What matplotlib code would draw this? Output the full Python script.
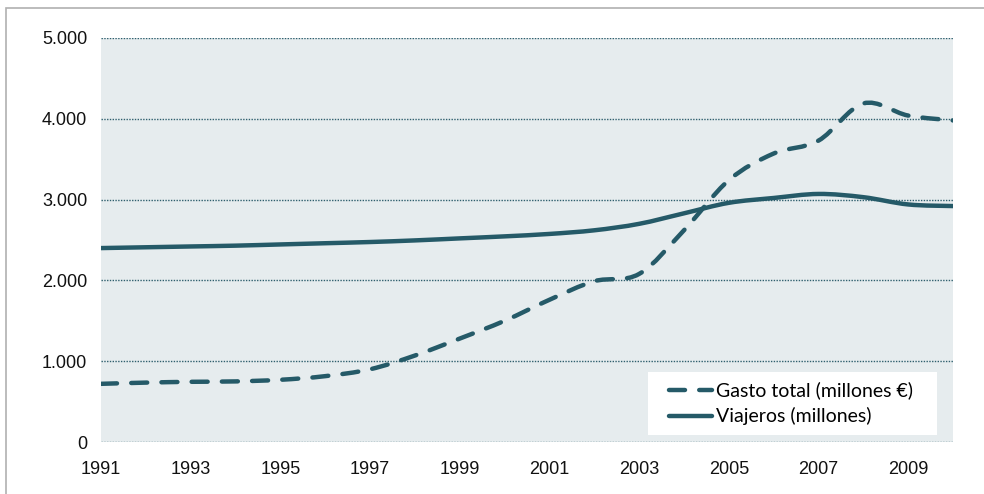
import matplotlib.pyplot as plt
from matplotlib.path import Path
from matplotlib.patches import PathPatch, Rectangle
from matplotlib.lines import Line2D
from matplotlib.ticker import FuncFormatter

years = list(range(1991, 2011))
gasto = [720, 735, 745, 750, 770, 815, 900, 1070, 1280, 1500,
         1760, 1990, 2080, 2620, 3240, 3570, 3730, 4190, 4040, 3980]
viajeros = [2400, 2410, 2420, 2430, 2445, 2460, 2475, 2495, 2520, 2545,
            2575, 2620, 2700, 2830, 2960, 3020, 3070, 3030, 2940, 2920]
xticks = list(range(1991, 2011, 2))
yticks = [0, 1000, 2000, 3000, 4000, 5000]

color = '#255a68'
plt.rcParams['font.family'] = ['Liberation Sans', 'DejaVu Sans']


def smooth_path(xs, ys):
    # curva suavizada tipo Excel (Catmull-Rom pasada a Bezier cubica)
    pts = list(zip(xs, ys))
    verts = [pts[0]]
    codes = [Path.MOVETO]
    n = len(pts)
    for i in range(n - 1):
        p0 = pts[i - 1] if i > 0 else pts[i]
        p1 = pts[i]
        p2 = pts[i + 1]
        p3 = pts[i + 2] if i + 2 < n else pts[i + 1]
        c1 = (p1[0] + (p2[0] - p0[0]) / 6, p1[1] + (p2[1] - p0[1]) / 6)
        c2 = (p2[0] - (p3[0] - p1[0]) / 6, p2[1] - (p3[1] - p1[1]) / 6)
        verts += [c1, c2, p2]
        codes += [Path.CURVE4] * 3
    return Path(verts, codes)


fig = plt.figure(figsize=(9.84, 4.94), dpi=100)
ax = fig.add_axes([101 / 984, 52 / 494, 852 / 984, 404 / 494])
ax.set_facecolor('#e6ecee')

fig.patches.append(Rectangle((6 / 984, -0.1), 1.2, (490 - 4) / 494 + 0.1,
                             transform=fig.transFigure, fill=False,
                             edgecolor='#b0b0b0', lw=1.2))

ax.add_patch(PathPatch(smooth_path(years, gasto), fill=False, edgecolor=color,
                       lw=3.2, linestyle=(0, (3.6, 3.2)), capstyle='round', zorder=3))
ax.add_patch(PathPatch(smooth_path(years, viajeros), fill=False, edgecolor=color,
                       lw=3.2, capstyle='round', zorder=3))

ax.set_xlim(1991, 2010)
ax.set_ylim(0, 5000)
ax.set_xticks(xticks)
ax.set_yticks(yticks)
ax.yaxis.set_major_formatter(FuncFormatter(lambda v, p: f'{int(v):,}'.replace(',', '.')))
ax.tick_params(length=0, labelsize=13, colors='#111111')
ax.tick_params(axis='x', pad=14)
ax.tick_params(axis='y', pad=10)
for s in ax.spines.values():
    s.set_visible(False)
ax.grid(axis='y', color='#2f5f6e', lw=1, linestyle=(0, (1, 1)))
ax.set_axisbelow(True)

# recuadro blanco de la leyenda
ax.add_patch(Rectangle((0.642, 0.0173), 0.339, 0.156, transform=ax.transAxes,
                       facecolor='white', edgecolor='none', zorder=4))

handles = [Line2D([], [], color=color, lw=3.2, linestyle=(0, (3.6, 3.2)), dash_capstyle='round'),
           Line2D([], [], color=color, lw=3.2, solid_capstyle='round')]
leg = ax.legend(handles, ['Gasto total (millones €)', 'Viajeros (millones)'],
                loc='center', bbox_to_anchor=(0.810, 0.0953), frameon=False,
                prop={'family': 'Lato', 'size': 14}, handlelength=2.2,
                handletextpad=0.2, borderpad=0, borderaxespad=0,
                labelspacing=0.4)
leg.set_zorder(5)

fig.savefig('out.png', dpi=100)
